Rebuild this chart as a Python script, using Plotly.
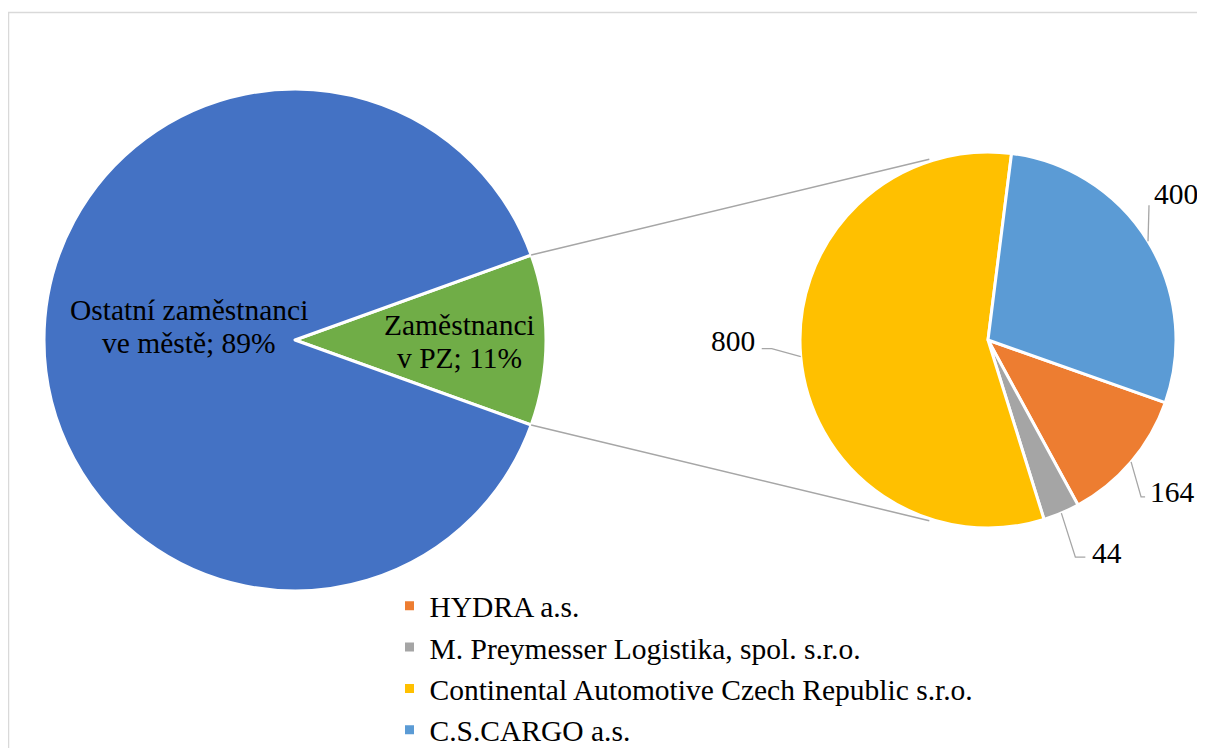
import math
import plotly.graph_objects as go

# main pie (share of employees in the industrial zone)
main_labels = ['Zaměstnanci<br>v PZ', 'Ostatní zaměstnanci<br>ve městě']
main_values = [11, 89]
main_colors = ['#70AD47', '#4472C4']

# second pie (employers in the zone)
zone_labels = ['HYDRA a.s.', 'M. Preymesser Logistika, spol. s.r.o.',
               'Continental Automotive Czech Republic s.r.o.', 'C.S.CARGO a.s.']
zone_values = [164, 44, 800, 400]
zone_colors = ['#ED7D31', '#A5A5A5', '#FFC000', '#5B9BD5']

# page body keeps its default 8px margin on every side
OFF = 8
W, H = 1205 - 2 * OFF, 756 - 2 * OFF
FONT = 'Liberation Serif, Times New Roman, serif'
FS = 29.5
LEADER = '#A6A6A6'

# pie geometry in window pixels
cx1, cy1, r1 = 295, 340, 251
cx2, cy2, r2 = 988, 340, 188


def px(x, y):
    return (x - OFF) / W, 1 - (y - OFF) / H


def domain(cx, cy, r):
    x0, y0 = px(cx - r, cy + r)
    x1, y1 = px(cx + r, cy - r)
    return dict(x=[x0, x1], y=[y0, y1])


def point(cx, cy, r, ang):
    a = math.radians(ang)
    return cx + r * math.sin(a), cy - r * math.cos(a)


# green slice centred at 3 o'clock
rot1 = 90 - main_values[0] / sum(main_values) * 360 / 2
# blue slice (last) starts just right of 12 o'clock
tot2 = sum(zone_values)
rot2 = 7.2 + zone_values[-1] / tot2 * 360

fig = go.Figure()
fig.add_trace(go.Pie(
    labels=main_labels, values=main_values, sort=False, direction='clockwise',
    rotation=rot1, domain=domain(cx1, cy1, r1), textinfo='none', showlegend=False,
    marker=dict(colors=main_colors, line=dict(color='white', width=3)),
))
fig.add_trace(go.Pie(
    labels=zone_labels, values=zone_values, sort=False, direction='clockwise',
    rotation=rot2, domain=domain(cx2, cy2, r2), textinfo='none',
    marker=dict(colors=zone_colors, line=dict(color='white', width=3)),
))

annotations = []
shapes = []

# labels in the main pie, one annotation per line for tighter line spacing
mid_green = rot1 + main_values[0] / sum(main_values) * 360 / 2
mid_blue = mid_green + 180
for lab, val, mid, frac, dy in [(main_labels[0], main_values[0], mid_green, 0.655, 1),
                                (main_labels[1], main_values[1], mid_blue, 0.423, -14)]:
    x, y = point(cx1, cy1, r1 * frac, mid)
    lines = f'{lab}; {val}%'.split('<br>')
    for i, line in enumerate(lines):
        xx, yy = px(x, y + dy + (i - (len(lines) - 1) / 2) * 33)
        annotations.append(dict(x=xx, y=yy, xref='paper', yref='paper', showarrow=False,
                                xanchor='center', yanchor='middle', text=line,
                                font=dict(family=FONT, size=FS, color='black')))

# outside value labels with elbow leader lines on the second pie
# (elbow dx, elbow dy, tail, text dx, text dy, anchor)
leaders = [(10, 35, 4, 3, -5, 'left'),
           (14, 44, 10, 5, -4, 'left'),
           (-29, -8, -10, -5, -8, 'right'),
           (1, -36, 0, 3, -11, 'left')]
start = rot2
for val, (ex, ey, tail, tx, ty, anchor) in zip(zone_values, leaders):
    span = val / tot2 * 360
    mid = start + span / 2
    start += span
    x0, y0 = point(cx2, cy2, r2, mid)
    x1, y1 = x0 + ex, y0 + ey
    x2 = x1 + tail
    p0, p1, p2 = px(x0, y0), px(x1, y1), px(x2, y1)
    shapes.append(dict(type='path', xref='paper', yref='paper',
                       path=f'M {p0[0]},{p0[1]} L {p1[0]},{p1[1]} L {p2[0]},{p2[1]}',
                       line=dict(color=LEADER, width=1.3)))
    tx_, ty_ = px(x2 + tx, y1 + ty)
    annotations.append(dict(x=tx_, y=ty_, xref='paper', yref='paper', showarrow=False,
                            xanchor=anchor, yanchor='middle', text=str(val),
                            font=dict(family=FONT, size=FS, color='black')))

# connector lines between the two pies
for a_main, a_zone in [(rot1, -18), (rot1 + main_values[0] / 100 * 360, 198)]:
    x0, y0 = point(cx1, cy1, r1, a_main)
    x1, y1 = point(cx2, cy2, r2 + 2, a_zone)
    p0, p1 = px(x0, y0), px(x1, y1)
    shapes.append(dict(type='line', xref='paper', yref='paper', x0=p0[0], y0=p0[1],
                       x1=p1[0], y1=p1[1], line=dict(color=LEADER, width=1.5)))
# chart area border
bx, by = px(8.5, 12.5)
shapes.append(dict(type='rect', xref='paper', yref='paper', x0=bx, y0=-0.05,
                   x1=1.05, y1=by, line=dict(color='#D9D9D9', width=1.5)))

lx, ly = px(389.5, 580)
fig.update_layout(
    width=W, height=H,
    margin=dict(l=0, r=0, t=0, b=0, autoexpand=False),
    paper_bgcolor='white', plot_bgcolor='white',
    font=dict(family=FONT, size=FS, color='black'),
    annotations=annotations, shapes=shapes,
    legend=dict(orientation='v', x=lx, y=ly, xanchor='left', yanchor='top',
                font=dict(family=FONT, size=FS, color='black'),
                bgcolor='rgba(0,0,0,0)', itemclick=False),
)

fig.write_html("out.html")
